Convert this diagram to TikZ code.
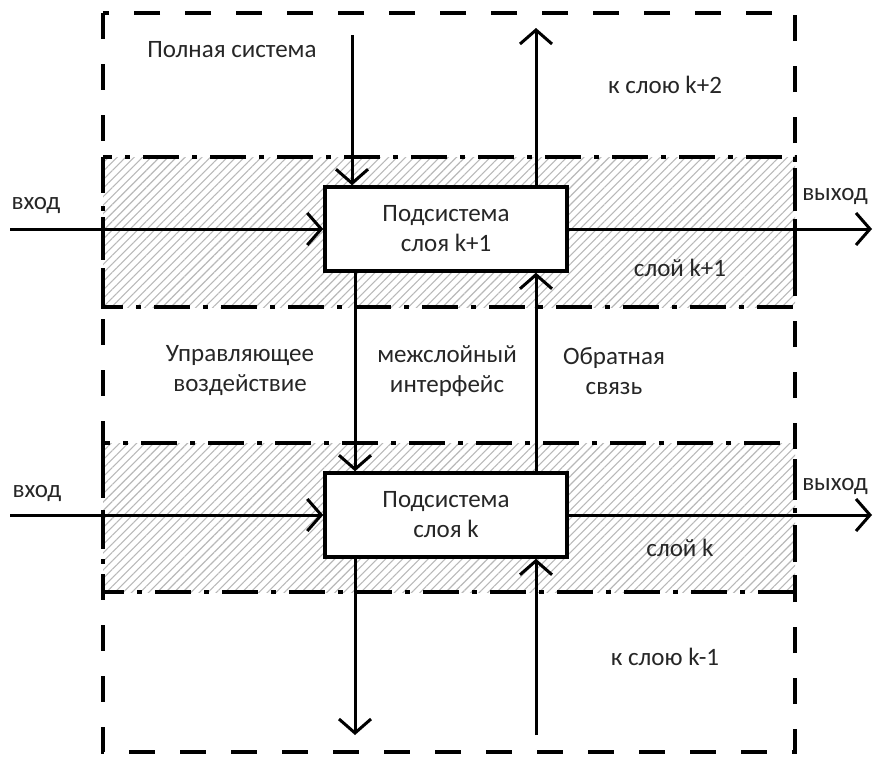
\documentclass[tikz,border=0pt]{standalone}
\usepackage{fontspec}
\setmainfont{Carlito}
\usetikzlibrary{arrows.meta,patterns.meta,positioning}
\tikzset{
  subsys/.style={ % box of one layer's subsystem
    draw, rectangle, line width=3.5pt, fill=white,
    minimum width=242pt, minimum height=84pt,
    inner sep=0pt, align=center, text=black!85,
    font=\fontsize{25}{30}\selectfont
  },
  layer/.style={ % hatched band of one layer
    pattern={Lines[angle=45,distance=6pt,line width=1.1pt]},
    pattern color=black!28
  },
  layerframe/.style={ % dash-dot border of a layer
    line width=3.5pt, dash pattern=on 36pt off 13pt on 5pt off 13pt
  },
  whole/.style={ % outer border of the full system
    line width=3.5pt, dash pattern=on 26pt off 25pt
  },
  flow/.style={
    line width=3pt, -{Straight Barb[length=14pt,width=32pt]}
  },
  lbl/.style={
    inner sep=0pt, align=center, text=black!85,
    font=\fontsize{25}{30}\selectfont
  }
}

\begin{document}
\begin{tikzpicture}[x=1pt,y=-1pt]
  \useasboundingbox (0,0) rectangle (875,758);

  % layers
  \fill[layer] (103,157) rectangle (795,307);
  \fill[layer] (103,443) rectangle (795,592);
  \draw[layerframe] (103,157) rectangle (795,307);
  \draw[layerframe] (103,443) rectangle (795,592);
  \draw[whole] (103,13) rectangle (795,752);

  \node[subsys] (upper) at (446,229) {Подсистема\\слоя k+1};
  \node[subsys] (lower) at (446,515) {Подсистема\\слоя k};

  \coordinate (inA)  at (10,229);
  \coordinate (outA) at (872,229);
  \coordinate (inB)  at (10,515);
  \coordinate (outB) at (872,515);
  \coordinate (sys)  at (352,35);
  \coordinate (ctl)  at (355,735);
  \coordinate (fb)   at (536,735);
  \coordinate (up)   at (536,28);

  \draw[flow] (inA) -- (upper.west);
  \draw[flow] (upper.east) -- (outA);
  \draw[flow] (inB) -- (lower.west);
  \draw[flow] (lower.east) -- (outB);
  \draw[flow] (sys) -- (sys |- upper.north);
  \draw[flow] (up |- upper.north) -- (up);
  \draw[flow] (ctl |- upper.south) -- (ctl |- lower.north);
  \draw[flow] (fb |- lower.north) -- (fb |- upper.south);
  \draw[flow] (ctl |- lower.south) -- (ctl);
  \draw[flow] (fb) -- (fb |- lower.south);

  \node[lbl,anchor=base] (full) at (232,57) {Полная система};
  \node[lbl,anchor=base] (next) at (665,93) {к слою k+2};
  \node[lbl,anchor=base] (inAtxt) at (36,209) {вход};
  \node[lbl,anchor=base] (outAtxt) at (835,200) {выход};
  \node[lbl,anchor=base] (layA) at (680,276) {слой k+1};
  \node[lbl] (control) at (240,371) {Управляющее\\воздействие};
  \node[lbl] (iface) at (447,371) {межслойный\\интерфейс};
  \node[lbl] (feedback) at (614,371) {Обратная\\связь};
  \node[lbl,anchor=base] (inBtxt) at (37,497) {вход};
  \node[lbl,anchor=base] (outBtxt) at (835,490) {выход};
  \node[lbl,anchor=base] (layB) at (680,556) {слой k};
  \node[lbl,anchor=base] (prev) at (665,665) {к слою k-1};
\end{tikzpicture}
\end{document}
